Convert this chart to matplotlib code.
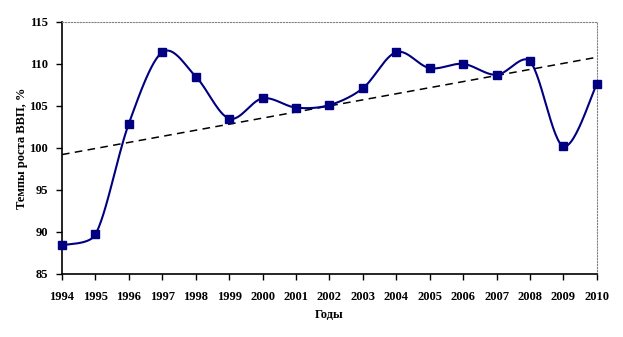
import numpy as np
import matplotlib.pyplot as plt

years = [1994, 1995, 1996, 1997, 1998, 1999, 2000, 2001, 2002,
         2003, 2004, 2005, 2006, 2007, 2008, 2009, 2010]
growth = [88.4, 89.7, 102.9, 111.4, 108.5, 103.5, 105.9, 104.8, 105.1,
          107.1, 111.4, 109.5, 110.0, 108.7, 110.3, 100.2, 107.6]
yticks = [85, 90, 95, 100, 105, 110, 115]


def smooth_curve(ax, x, y, n=30):
    """Excel-like smoothed line: Catmull-Rom Bezier in screen space,
    with control arms capped at a third of the segment length"""
    pts = ax.transData.transform(np.column_stack([x, y]))
    pts = np.vstack([pts[0], pts, pts[-1]])
    t = np.linspace(0, 1, n)[:, None]
    out = []
    for i in range(1, len(pts) - 2):
        p0, p1, p2, p3 = pts[i - 1], pts[i], pts[i + 1], pts[i + 2]
        cap = np.linalg.norm(p2 - p1) / 3
        a1 = (p2 - p0) / 6
        a2 = (p3 - p1) / 6
        if np.linalg.norm(a1) > cap:
            a1 = a1 / np.linalg.norm(a1) * cap
        if np.linalg.norm(a2) > cap:
            a2 = a2 / np.linalg.norm(a2) * cap
        c1 = p1 + a1
        c2 = p2 - a2
        bez = ((1 - t) ** 3 * p1 + 3 * (1 - t) ** 2 * t * c1
               + 3 * (1 - t) * t ** 2 * c2 + t ** 3 * p2)
        out.append(bez)
    out = ax.transData.inverted().transform(np.vstack(out))
    return out[:, 0], out[:, 1]


plt.rcParams['font.family'] = ['Liberation Serif', 'DejaVu Serif']
plt.rcParams['font.weight'] = 'bold'

fig = plt.figure(figsize=(6.23, 3.37), dpi=100)
ax = fig.add_axes([0.0995, 0.187, 0.8585, 0.748])
ax.set_xlim(years[0], years[-1])
ax.set_ylim(yticks[0], yticks[-1])

# smoothed line + markers
sx, sy = smooth_curve(ax, years, growth)
ax.plot(sx, sy, color='#000080', lw=1.5, zorder=3, clip_on=False)
ax.plot(years, growth, 's', color='#000080', ms=5.6, zorder=4, clip_on=False)

# linear trend
k, b = np.polyfit(years, growth, 1)
tx = np.array([years[0], years[-1]])
ax.plot(tx, k * tx + b, '--', color='black', lw=1.1, dashes=(5, 3.5), zorder=2)

ax.set_xticks(years)
ax.set_yticks(yticks)
ax.tick_params(labelsize=9, direction='out', length=4, width=1)
ax.tick_params(axis='x', pad=8)
ax.tick_params(axis='y', pad=6)

for s in ['top', 'right']:
    ax.spines[s].set_linestyle(':')
    ax.spines[s].set_color('gray')
    ax.spines[s].set_linewidth(0.8)
for s in ['left', 'bottom']:
    ax.spines[s].set_linewidth(1.2)

ax.set_xlabel('Годы', fontsize=9, fontweight='bold')
ax.xaxis.set_label_coords(0.5, -0.14)
ax.set_ylabel('Темпы роста ВВП, %', fontsize=9, fontweight='bold')
ax.yaxis.set_label_coords(-0.075, 0.5)
ax.yaxis.label.set_va('center')

fig.savefig('out.png', dpi=100)
